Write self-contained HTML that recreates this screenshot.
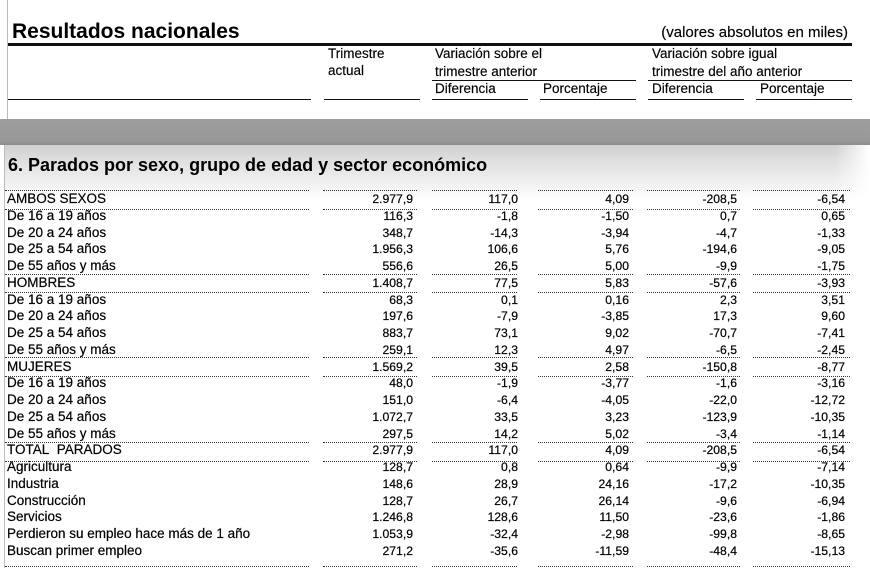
<!DOCTYPE html>
<html>
<head>
<meta charset="utf-8">
<style>
html,body{margin:0;padding:0;background:#fff;}
body{width:870px;height:568px;position:relative;overflow:hidden;font-family:"Liberation Sans",Arial,sans-serif;color:#000;}
.a{position:absolute;white-space:nowrap;}
.h{font-size:13.5px;line-height:16px;-webkit-text-stroke:0.15px #000;}
.ln{position:absolute;background:#111;}
.dot{position:absolute;height:0;border-top:1px dotted #333;}
.row{position:absolute;left:0;width:870px;height:16px;-webkit-text-stroke:0.2px #000;}
.row span{position:absolute;top:0;line-height:16px;white-space:nowrap;}
.row .l{left:7px;font-size:13.5px;}
.row .n{font-size:12.2px;text-align:right;width:100px;}
.c1{left:313px;}
.c2{left:418px;}
.c3{left:529px;}
.c4{left:637px;}
.c5{left:745px;}
</style>
</head>
<body>
<!-- left vertical lines -->
<div class="a" style="left:7px;top:0;width:1px;height:119px;background:#bbb;"></div>
<div class="a" style="left:4px;top:145px;width:1px;height:423px;background:#bbb;"></div>

<!-- title -->
<div class="a" style="left:12px;top:19.7px;font-size:21px;line-height:24px;font-weight:bold;">Resultados nacionales</div>
<div class="a" style="right:22px;top:24.3px;font-size:15px;line-height:18px;-webkit-text-stroke:0.15px #000;">(valores absolutos en miles)</div>
<div class="ln" style="left:8px;top:43px;width:844px;height:3px;"></div>

<!-- header -->
<div class="a h" style="left:328px;top:45.5px;">Trimestre</div>
<div class="a h" style="left:328px;top:62.5px;">actual</div>
<div class="a h" style="left:435px;top:45.5px;">Variación sobre el</div>
<div class="a h" style="left:435px;top:63.5px;">trimestre anterior</div>
<div class="a h" style="left:652px;top:45.5px;">Variación sobre igual</div>
<div class="a h" style="left:652px;top:63.5px;">trimestre del año anterior</div>
<div class="ln" style="left:432px;top:80px;width:204px;height:1px;"></div>
<div class="ln" style="left:648px;top:80px;width:204px;height:1px;"></div>
<div class="a h" style="left:435px;top:80.5px;">Diferencia</div>
<div class="a h" style="left:543px;top:80.5px;">Porcentaje</div>
<div class="a h" style="left:652px;top:80.5px;">Diferencia</div>
<div class="a h" style="left:760px;top:80.5px;">Porcentaje</div>
<div class="ln" style="left:8px;top:98.5px;width:303px;height:1.5px;"></div>
<div class="ln" style="left:324px;top:98.5px;width:96px;height:1.5px;"></div>
<div class="ln" style="left:432px;top:98.5px;width:96px;height:1.5px;"></div>
<div class="ln" style="left:540px;top:98.5px;width:96px;height:1.5px;"></div>
<div class="ln" style="left:648px;top:98.5px;width:96px;height:1.5px;"></div>
<div class="ln" style="left:756px;top:98.5px;width:96px;height:1.5px;"></div>

<!-- gray band and shadow -->
<div class="a" style="left:0;top:119px;width:870px;height:26px;background:linear-gradient(#9e9e9e,#989898 85%,#8c8c8c);"></div>
<div class="a" style="left:5px;top:145px;width:865px;height:55px;background:linear-gradient(#d0d0d0,#e2e2e2 35%,#f3f3f3 75%,rgba(255,255,255,0));"></div>
<div class="a" style="left:835px;top:145px;width:35px;height:55px;background:linear-gradient(to left,#fff,rgba(255,255,255,0));"></div>

<!-- section title -->
<div class="a" style="left:8px;top:154.8px;font-size:18px;line-height:20px;font-weight:bold;">6. Parados por sexo, grupo de edad y sector económico</div>

<!-- dotted lines -->
<div class="dot" style="left:5px;top:190px;width:304px;"></div><div class="dot" style="left:323px;top:190px;width:94px;"></div><div class="dot" style="left:432px;top:190px;width:85px;"></div><div class="dot" style="left:538px;top:190px;width:95px;"></div><div class="dot" style="left:647px;top:190px;width:93px;"></div><div class="dot" style="left:753px;top:190px;width:97px;"></div>
<div class="dot" style="left:5px;top:209px;width:304px;"></div><div class="dot" style="left:323px;top:209px;width:94px;"></div><div class="dot" style="left:432px;top:209px;width:85px;"></div><div class="dot" style="left:538px;top:209px;width:95px;"></div><div class="dot" style="left:647px;top:209px;width:93px;"></div><div class="dot" style="left:753px;top:209px;width:97px;"></div>
<div class="dot" style="left:5px;top:274px;width:304px;"></div><div class="dot" style="left:323px;top:274px;width:94px;"></div><div class="dot" style="left:432px;top:274px;width:85px;"></div><div class="dot" style="left:538px;top:274px;width:95px;"></div><div class="dot" style="left:647px;top:274px;width:93px;"></div><div class="dot" style="left:753px;top:274px;width:97px;"></div>
<div class="dot" style="left:5px;top:292px;width:304px;"></div><div class="dot" style="left:323px;top:292px;width:94px;"></div><div class="dot" style="left:432px;top:292px;width:85px;"></div><div class="dot" style="left:538px;top:292px;width:95px;"></div><div class="dot" style="left:647px;top:292px;width:93px;"></div><div class="dot" style="left:753px;top:292px;width:97px;"></div>
<div class="dot" style="left:5px;top:357px;width:304px;"></div><div class="dot" style="left:323px;top:357px;width:94px;"></div><div class="dot" style="left:432px;top:357px;width:85px;"></div><div class="dot" style="left:538px;top:357px;width:95px;"></div><div class="dot" style="left:647px;top:357px;width:93px;"></div><div class="dot" style="left:753px;top:357px;width:97px;"></div>
<div class="dot" style="left:5px;top:376px;width:304px;"></div><div class="dot" style="left:323px;top:376px;width:94px;"></div><div class="dot" style="left:432px;top:376px;width:85px;"></div><div class="dot" style="left:538px;top:376px;width:95px;"></div><div class="dot" style="left:647px;top:376px;width:93px;"></div><div class="dot" style="left:753px;top:376px;width:97px;"></div>
<div class="dot" style="left:5px;top:442px;width:304px;"></div><div class="dot" style="left:323px;top:442px;width:94px;"></div><div class="dot" style="left:432px;top:442px;width:85px;"></div><div class="dot" style="left:538px;top:442px;width:95px;"></div><div class="dot" style="left:647px;top:442px;width:93px;"></div><div class="dot" style="left:753px;top:442px;width:97px;"></div>
<div class="dot" style="left:5px;top:461px;width:304px;"></div><div class="dot" style="left:323px;top:461px;width:94px;"></div><div class="dot" style="left:432px;top:461px;width:85px;"></div><div class="dot" style="left:538px;top:461px;width:95px;"></div><div class="dot" style="left:647px;top:461px;width:93px;"></div><div class="dot" style="left:753px;top:461px;width:97px;"></div>
<div class="dot" style="left:5px;top:566px;width:304px;"></div><div class="dot" style="left:323px;top:566px;width:94px;"></div><div class="dot" style="left:432px;top:566px;width:85px;"></div><div class="dot" style="left:538px;top:566px;width:95px;"></div><div class="dot" style="left:647px;top:566px;width:93px;"></div><div class="dot" style="left:753px;top:566px;width:97px;"></div>

<!-- rows -->
<div class="row" style="top:191px;"><span class="l">AMBOS SEXOS</span><span class="n c1">2.977,9</span><span class="n c2">117,0</span><span class="n c3">4,09</span><span class="n c4">-208,5</span><span class="n c5">-6,54</span></div>
<div class="row" style="top:207.76px;"><span class="l">De 16 a 19 años</span><span class="n c1">116,3</span><span class="n c2">-1,8</span><span class="n c3">-1,50</span><span class="n c4">0,7</span><span class="n c5">0,65</span></div>
<div class="row" style="top:224.52px;"><span class="l">De 20 a 24 años</span><span class="n c1">348,7</span><span class="n c2">-14,3</span><span class="n c3">-3,94</span><span class="n c4">-4,7</span><span class="n c5">-1,33</span></div>
<div class="row" style="top:241.28px;"><span class="l">De 25 a 54 años</span><span class="n c1">1.956,3</span><span class="n c2">106,6</span><span class="n c3">5,76</span><span class="n c4">-194,6</span><span class="n c5">-9,05</span></div>
<div class="row" style="top:258.04px;"><span class="l">De 55 años y más</span><span class="n c1">556,6</span><span class="n c2">26,5</span><span class="n c3">5,00</span><span class="n c4">-9,9</span><span class="n c5">-1,75</span></div>
<div class="row" style="top:274.8px;"><span class="l">HOMBRES</span><span class="n c1">1.408,7</span><span class="n c2">77,5</span><span class="n c3">5,83</span><span class="n c4">-57,6</span><span class="n c5">-3,93</span></div>
<div class="row" style="top:291.56px;"><span class="l">De 16 a 19 años</span><span class="n c1">68,3</span><span class="n c2">0,1</span><span class="n c3">0,16</span><span class="n c4">2,3</span><span class="n c5">3,51</span></div>
<div class="row" style="top:308.32px;"><span class="l">De 20 a 24 años</span><span class="n c1">197,6</span><span class="n c2">-7,9</span><span class="n c3">-3,85</span><span class="n c4">17,3</span><span class="n c5">9,60</span></div>
<div class="row" style="top:325.08px;"><span class="l">De 25 a 54 años</span><span class="n c1">883,7</span><span class="n c2">73,1</span><span class="n c3">9,02</span><span class="n c4">-70,7</span><span class="n c5">-7,41</span></div>
<div class="row" style="top:341.84px;"><span class="l">De 55 años y más</span><span class="n c1">259,1</span><span class="n c2">12,3</span><span class="n c3">4,97</span><span class="n c4">-6,5</span><span class="n c5">-2,45</span></div>
<div class="row" style="top:358.6px;"><span class="l">MUJERES</span><span class="n c1">1.569,2</span><span class="n c2">39,5</span><span class="n c3">2,58</span><span class="n c4">-150,8</span><span class="n c5">-8,77</span></div>
<div class="row" style="top:375.36px;"><span class="l">De 16 a 19 años</span><span class="n c1">48,0</span><span class="n c2">-1,9</span><span class="n c3">-3,77</span><span class="n c4">-1,6</span><span class="n c5">-3,16</span></div>
<div class="row" style="top:392.12px;"><span class="l">De 20 a 24 años</span><span class="n c1">151,0</span><span class="n c2">-6,4</span><span class="n c3">-4,05</span><span class="n c4">-22,0</span><span class="n c5">-12,72</span></div>
<div class="row" style="top:408.88px;"><span class="l">De 25 a 54 años</span><span class="n c1">1.072,7</span><span class="n c2">33,5</span><span class="n c3">3,23</span><span class="n c4">-123,9</span><span class="n c5">-10,35</span></div>
<div class="row" style="top:425.64px;"><span class="l">De 55 años y más</span><span class="n c1">297,5</span><span class="n c2">14,2</span><span class="n c3">5,02</span><span class="n c4">-3,4</span><span class="n c5">-1,14</span></div>
<div class="row" style="top:442.4px;"><span class="l">TOTAL&nbsp; PARADOS</span><span class="n c1">2.977,9</span><span class="n c2">117,0</span><span class="n c3">4,09</span><span class="n c4">-208,5</span><span class="n c5">-6,54</span></div>
<div class="row" style="top:459.16px;"><span class="l">Agricultura</span><span class="n c1">128,7</span><span class="n c2">0,8</span><span class="n c3">0,64</span><span class="n c4">-9,9</span><span class="n c5">-7,14</span></div>
<div class="row" style="top:475.92px;"><span class="l">Industria</span><span class="n c1">148,6</span><span class="n c2">28,9</span><span class="n c3">24,16</span><span class="n c4">-17,2</span><span class="n c5">-10,35</span></div>
<div class="row" style="top:492.68px;"><span class="l">Construcción</span><span class="n c1">128,7</span><span class="n c2">26,7</span><span class="n c3">26,14</span><span class="n c4">-9,6</span><span class="n c5">-6,94</span></div>
<div class="row" style="top:509.44px;"><span class="l">Servicios</span><span class="n c1">1.246,8</span><span class="n c2">128,6</span><span class="n c3">11,50</span><span class="n c4">-23,6</span><span class="n c5">-1,86</span></div>
<div class="row" style="top:526.2px;"><span class="l">Perdieron su empleo hace más de 1 año</span><span class="n c1">1.053,9</span><span class="n c2">-32,4</span><span class="n c3">-2,98</span><span class="n c4">-99,8</span><span class="n c5">-8,65</span></div>
<div class="row" style="top:542.96px;"><span class="l">Buscan primer empleo</span><span class="n c1">271,2</span><span class="n c2">-35,6</span><span class="n c3">-11,59</span><span class="n c4">-48,4</span><span class="n c5">-15,13</span></div>
</body>
</html>
